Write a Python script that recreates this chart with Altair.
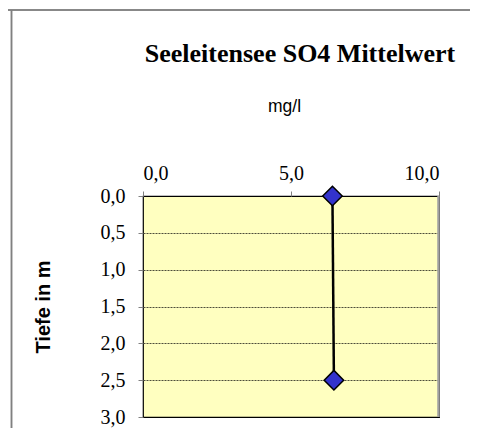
import altair as alt
import pandas as pd

depth = [0.0, 2.5]
so4 = [6.4, 6.45]
x_ticks = [0, 5, 10]
y_ticks = [0, 0.5, 1.0, 1.5, 2.0, 2.5, 3.0]

df = pd.DataFrame({"Tiefe": depth, "SO4": so4})

W, H = 296, 221
fmt_expr = "replace(format(datum.value, '.1f'), '.', ',')"

x_enc = alt.X(
    "SO4:Q",
    scale=alt.Scale(domain=[0, 10], nice=False, zero=False),
    axis=alt.Axis(
        orient="top", values=x_ticks, tickCount=20, labelExpr=fmt_expr,
        title="mg/l", grid=False, tickSize=5, tickColor="#808080",
        domain=False, labelFont="Liberation Serif", labelFontSize=20,
        labelColor="#000", labelPadding=8, titleFont="Liberation Sans",
        titleFontSize=17.5, titleFontWeight="normal", titleColor="#000",
        titlePadding=48, titleX=141,
    ),
)
y_enc = alt.Y(
    "Tiefe:Q",
    scale=alt.Scale(domain=[0, 3], reverse=True, nice=False, zero=False),
    axis=alt.Axis(
        values=y_ticks, tickCount=20, labelExpr=fmt_expr, title="Tiefe in m",
        grid=True, gridColor="#000", gridDash=[2, 1], gridWidth=0.7,
        tickSize=5, tickColor="#808080", domain=False,
        labelFont="Liberation Serif", labelFontSize=20, labelColor="#000",
        labelPadding=13, titleFont="Liberation Sans", titleFontSize=20,
        titleFontWeight="bold", titleColor="#000",
        titleX=-100, titleY=H / 2, titleAngle=270, titleAlign="center",
        titleBaseline="middle",
    ),
)

line = alt.Chart(df).mark_line(color="#000", strokeWidth=2.5).encode(
    x=x_enc, y=y_enc, order="Tiefe:Q"
)
pts = alt.Chart(df).mark_point(
    shape="diamond", filled=True, fill="#3333CC", stroke="#000",
    strokeWidth=1.5, size=380, opacity=1,
).encode(x="SO4:Q", y="Tiefe:Q")

right_edge = alt.Chart(df).mark_rule(color="#A0A0A0", strokeWidth=2).encode(
    x=alt.value(W - 0.5), y=alt.value(0), y2=alt.value(H)
)
frame_top = alt.Chart(df).mark_rule(color="#808080", strokeWidth=1.5).encode(
    x=alt.value(-150), x2=alt.value(345), y=alt.value(-186)
)
frame_left = alt.Chart(df).mark_rule(color="#808080", strokeWidth=1.5).encode(
    x=alt.value(-131.5), y=alt.value(-186), y2=alt.value(H + 30)
)

chart = (
    alt.layer(frame_top, frame_left, line, pts, right_edge)
    .properties(
        width=W, height=H,
        title=alt.TitleParams(
            "Seeleitensee SO4 Mittelwert", font="Liberation Serif",
            fontSize=26, fontWeight="bold", color="#000", anchor="middle",
            dx=9, dy=58, offset=0,
        ),
        autosize=alt.AutoSizeParams(type="none"),
        padding={"left": 135, "top": 188, "right": 31, "bottom": 11},
    )
    .configure(background="white")
    .configure_view(fill="#FFFFC0", stroke="#000", strokeWidth=1.2)
)

chart.save("out.html", embed_options={"renderer": "svg", "actions": False})
